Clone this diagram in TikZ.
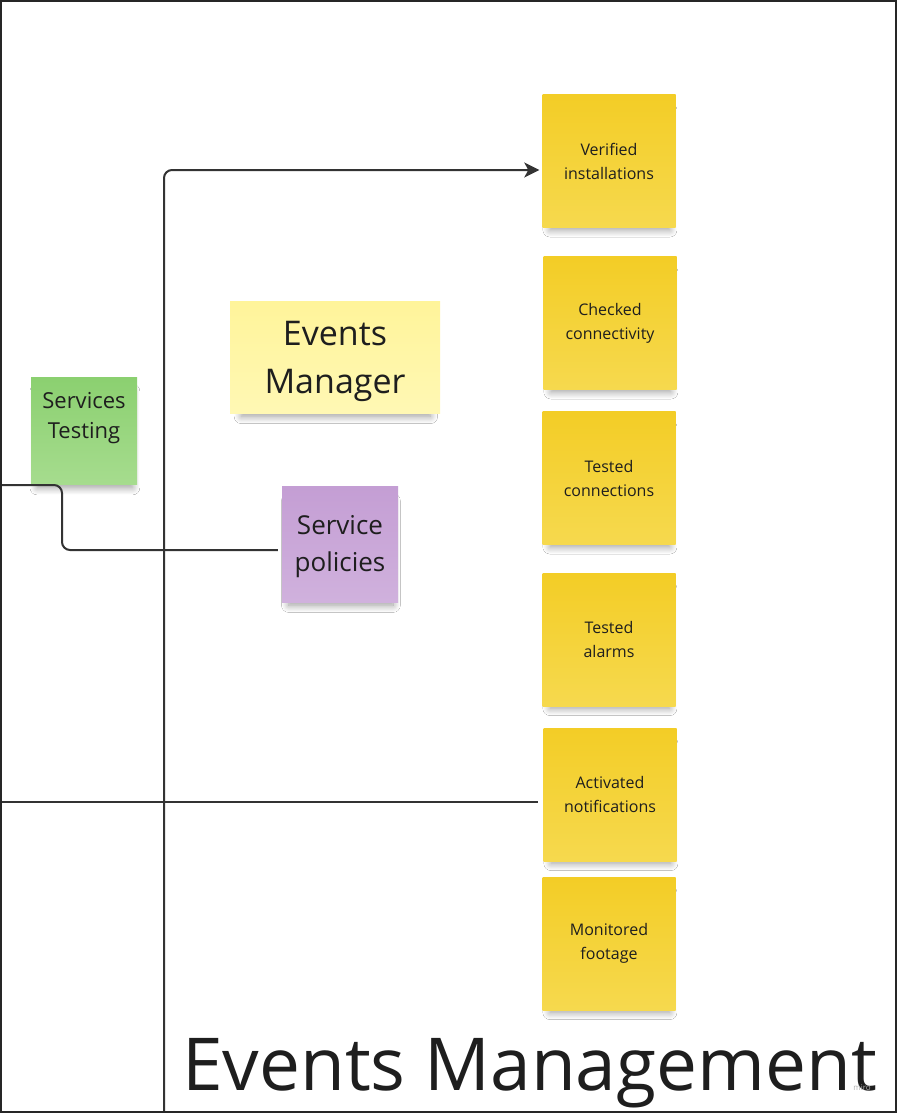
\documentclass[tikz,border=0pt]{standalone}
\usepackage{fontspec}
\setmainfont{Open Sans}
\usepackage{xcolor}
\usetikzlibrary{shadows.blur,arrows.meta}

\definecolor{lineclr}{HTML}{333333}
\definecolor{stickytop}{HTML}{F3CD26}
\definecolor{stickybot}{HTML}{F6D94E}
\definecolor{greentop}{HTML}{8BD070}
\definecolor{greenbot}{HTML}{A6DC8E}
\definecolor{purpletop}{HTML}{C49ED4}
\definecolor{purplebot}{HTML}{D0B1DD}
\definecolor{paletop}{HTML}{FFF49A}
\definecolor{palebot}{HTML}{FFF8B4}
\definecolor{textclr}{HTML}{1E1E1E}

\begin{document}
\begin{tikzpicture}[x=1pt, y=-1pt,
    note/.style={minimum width=#1, minimum height=#1, inner sep=0pt,
        align=center, text=textclr,
        blur shadow={shadow xshift=1pt, shadow yshift=-10pt, shadow scale=0.9,
            shadow blur radius=8pt, shadow blur steps=12, shadow opacity=40}},
    sticky/.style={note=133pt, top color=stickytop, bottom color=stickybot,
        font=\fontsize{16}{24}\selectfont},
    notetext/.style={text=textclr, align=center, inner sep=0pt},
    link/.style={draw=lineclr, line width=2pt, rounded corners=8pt}]
    \useasboundingbox (0, 0) rectangle (897, 1113);
    \fill[white] (0, 0) rectangle (897, 1113);

    % the stickies on the right
    \node[sticky] (verified) at (609, 161) {Verified\\installations};
    \node[sticky] (checked) at (610, 323) {Checked\\connectivity};
    \node[sticky] (connections) at (609, 478) {Tested\\connections};
    \node[sticky] (alarms) at (609, 639.5) {Tested\\alarms};
    \node[sticky] (activated) at (610, 794.5) {Activated\\notifications};
    \node[sticky] (footage) at (609, 943.5) {Monitored\\footage};

    \node[note=106pt, minimum height=107pt, top color=greentop, bottom color=greenbot]
        (testing) at (84, 430.5) {};
    \node[notetext, font=\fontsize{22}{30}\selectfont]
        (testinglabel) at ([yshift=12pt]testing.center) {Services\\Testing};
    \node[note=116pt, top color=purpletop, bottom color=purplebot] (policies) at (340, 544) {};
    \node[notetext, font=\fontsize{26}{37}\selectfont]
        (policieslabel) at ([yshift=-3pt]policies.center) {Service\\policies};
    \node[note=210pt, minimum height=112pt, top color=paletop, bottom color=palebot]
        (manager) at (335, 357) {};
    \node[notetext, font=\fontsize{34}{48}\selectfont]
        (managerlabel) at ([yshift=-4pt]manager.center) {Events\\Manager};

    % connectors
    \coordinate (base) at (164, 1113);
    \coordinate (leftA) at (0, 485);
    \coordinate (bendA) at (62, 485);
    \coordinate (leftB) at (0, 802);
    \draw[link, -{Stealth[length=15pt, width=15pt, inset=4pt]}, shorten >=3pt]
        (base) |- ([yshift=-9pt]verified.west);
    \draw[link, shorten >=4pt] (leftA) -- (bendA) |- ([yshift=-6pt]policies.west);
    \draw[link, shorten >=5pt] (leftB) -- ([yshift=-7.5pt]activated.west);

    \node[anchor=base west, inner sep=0pt, text=textclr,
        font=\fontsize{73}{88}\selectfont] (title) at (182, 1090) {Events Management};
    \node[text=gray!60, font=\fontsize{8}{9}\selectfont, inner sep=0pt] (miro) at (862, 1088) {miro};

    \draw[draw=black!85, line width=2pt] (1, 1) rectangle (896, 1112);
\end{tikzpicture}
\end{document}
